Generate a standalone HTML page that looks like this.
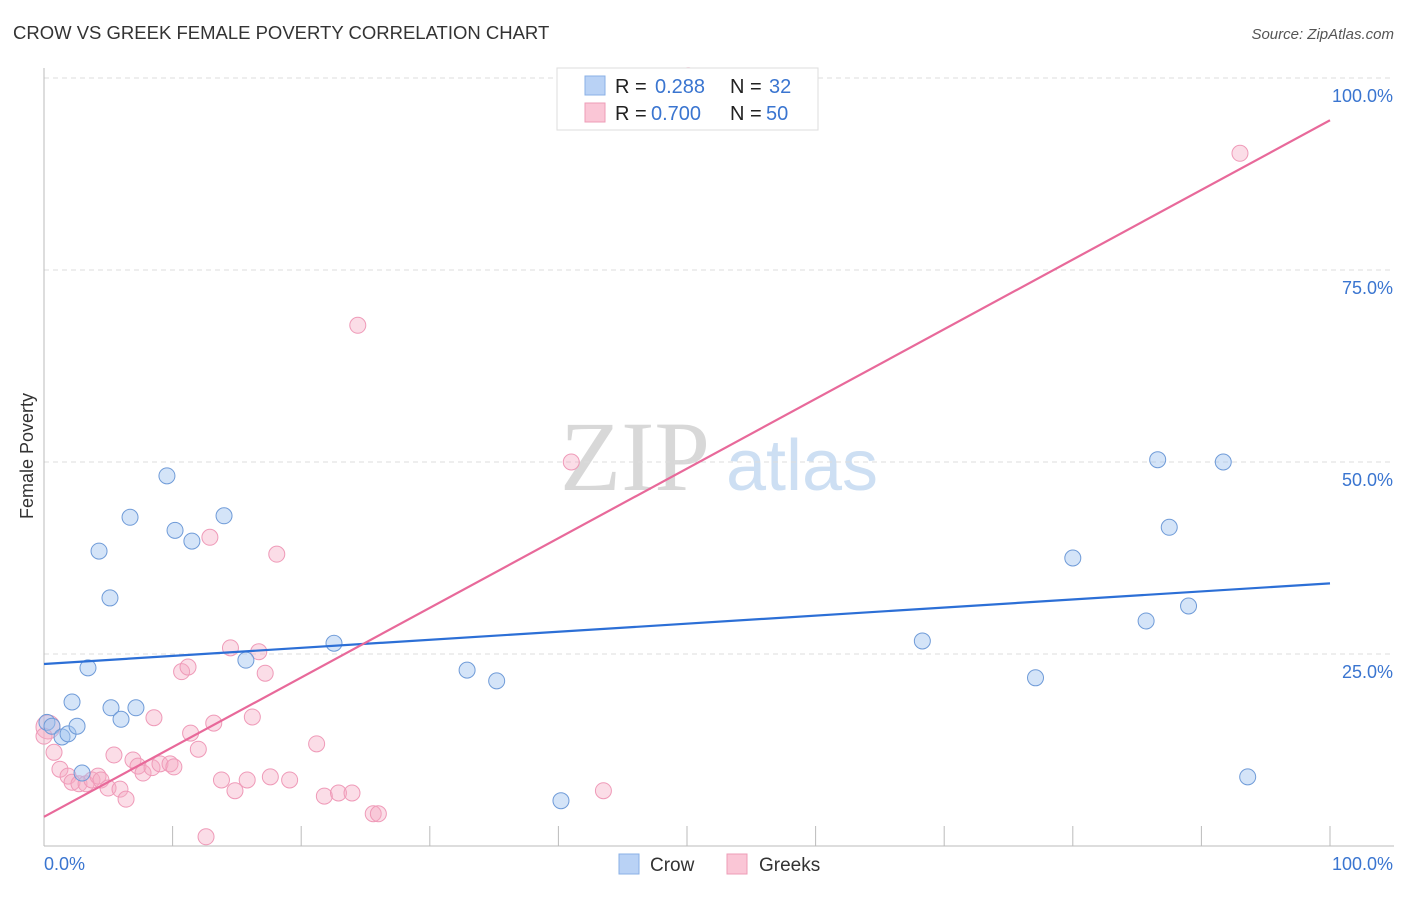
<!DOCTYPE html>
<html><head><meta charset="utf-8"><style>
body{margin:0;background:#fff;font-family:"Liberation Sans",sans-serif;}
svg text{font-family:"Liberation Sans",sans-serif;}
</style></head><body>
<svg id="chart" width="1406" height="892" xmlns="http://www.w3.org/2000/svg">
<text x="13" y="39" font-size="18.5" fill="#333">CROW VS GREEK FEMALE POVERTY CORRELATION CHART</text>
<text x="1394" y="39" font-size="15" fill="#555" font-style="italic" text-anchor="end">Source: ZipAtlas.com</text>
<text transform="translate(33,456) rotate(-90)" font-size="18" fill="#333" text-anchor="middle">Female Poverty</text>
<g>
<text x="635" y="490" font-size="100" style="font-family:'Liberation Serif',serif" fill="#d8d8d8" text-anchor="middle">ZIP</text>
<text x="802" y="490" font-size="72" fill="#cddff3" text-anchor="middle">atlas</text>
</g>
<g id="grid"></g><g id="axes"></g><g id="trend"></g><g id="pts"></g>
<g>
<rect x="557" y="68" width="261" height="62" fill="#fff" stroke="#ddd"/>
<rect x="585" y="76" width="20" height="19" fill="#b9d2f5" stroke="#8ab0e6"/>
<rect x="585" y="103" width="20" height="19" fill="#fac6d6" stroke="#ee9cb7"/>
<text x="615" y="93" font-size="20" fill="#222">R = </text><text x="655" y="93" font-size="20" fill="#3a75d0">0.288</text>
<text x="730" y="93" font-size="20" fill="#222">N = </text><text x="769" y="93" font-size="20" fill="#3a75d0">32</text>
<text x="615" y="120" font-size="20" fill="#222">R = </text><text x="651" y="120" font-size="20" fill="#3a75d0">0.700</text>
<text x="730" y="120" font-size="20" fill="#222">N = </text><text x="766" y="120" font-size="20" fill="#3a75d0">50</text>
</g>
<g>
<rect x="619" y="854" width="20" height="20" fill="#b9d2f5" stroke="#8ab0e6"/>
<text x="650" y="871" font-size="19" fill="#333">Crow</text>
<rect x="727" y="854" width="20" height="20" fill="#fac6d6" stroke="#ee9cb7"/>
<text x="759" y="871" font-size="19" fill="#333">Greeks</text>
</g>
</svg>
<script>
const crowX=[0.23,0.62,1.4,1.87,2.18,2.57,2.96,3.42,4.28,5.13,5.21,5.99,6.69,7.15,9.56,10.19,11.5,14.0,15.7,22.55,32.9,35.2,40.2,68.3,77.1,80.0,85.7,86.6,87.5,89.0,91.7,93.6];
const crowY=[16.1,15.6,14.2,14.6,18.75,15.6,9.5,23.2,38.4,32.3,18.0,16.5,42.8,18.0,48.2,41.1,39.7,43.0,24.2,26.4,22.9,21.5,5.9,26.7,21.9,37.5,29.3,50.3,41.5,31.25,50.0,9.0];
const greekX=[0.31,0.78,1.24,1.87,2.18,2.72,3.27,3.73,4.2,4.43,4.98,5.44,5.91,6.38,6.92,7.31,7.7,8.4,8.55,9.02,9.8,10.1,10.7,11.2,11.4,12.0,12.6,12.9,13.2,13.8,14.5,14.85,15.8,16.2,16.7,17.2,17.6,18.1,19.1,21.2,21.8,22.9,23.95,24.4,25.6,26.0,41.0,43.5,93.0,0,50.1];
const greekY=[15.5,12.2,10.0,9.1,8.3,8.1,8.1,8.6,9.1,8.6,7.55,11.85,7.4,6.1,11.2,10.4,9.5,10.2,16.7,10.7,10.7,10.3,22.7,23.3,14.7,12.6,1.2,40.2,16.0,8.6,25.8,7.2,8.6,16.8,25.3,22.5,9.0,38.0,8.6,13.3,6.5,6.9,6.9,67.8,4.2,4.2,50.0,7.2,90.2,14.3,100.3];
const crowTrend=[23.7,34.2];
const greekTrend=[3.8,94.5];
const yTicks=[25,50,75,100];
const yTickLabels=["25.0%","50.0%","75.0%","100.0%"];
const NS="http://www.w3.org/2000/svg";
const X=v=>44+v*12.86, Y=v=>846-v*7.68;
function mk(tag,at,parent){const e=document.createElementNS(NS,tag);for(const k in at)e.setAttribute(k,at[k]);document.getElementById(parent).appendChild(e);return e;}
yTicks.forEach((t,i)=>{
 const g=mk('line',{x1:44,x2:1394,y1:Y(t),y2:Y(t),stroke:'#ddd','stroke-dasharray':'5,4'},'grid');
 
 
 const l=mk('text',{x:1393,y:Y(t)+24,'font-size':18,fill:'#3a75d0','text-anchor':'end'},'grid');
 l.textContent=yTickLabels[i];
 
 
});
const ax=mk('line',{x1:44,x2:44,y1:68,y2:846,stroke:'#bbb'},'axes');


const bx=mk('line',{x1:44,x2:1394,y1:846,y2:846,stroke:'#bbb'},'axes');


for(let i=0;i<=10;i++){const t=mk('line',{x1:X(i*10),x2:X(i*10),y1:826,y2:846,stroke:'#bbb'},'axes');
 
 }
[["0.0%",44,'start'],["100.0%",1393,'end']].forEach(a=>{const t=mk('text',{x:a[1],y:870,'font-size':18,fill:'#3a75d0','text-anchor':a[2]},'axes');t.textContent=a[0];
 
 });
greekX.forEach((x,i)=>{const c=mk('circle',{cx:X(x),cy:Y(greekY[i]),r:(i==0?12:8),fill:'rgba(246,170,196,0.4)',stroke:'#ef9ab8','stroke-width':1},'pts');
 
 });
crowX.forEach((x,i)=>{const c=mk('circle',{cx:X(x),cy:Y(crowY[i]),r:8,fill:'rgba(160,195,240,0.45)',stroke:'#6f9bd8','stroke-width':1},'pts');
 
 });
const t1=mk('line',{x1:X(0),x2:X(100),y1:Y(crowTrend[0]),y2:Y(crowTrend[1]),stroke:'#2c6fd6','stroke-width':2.2},'pts');


const t2=mk('line',{x1:X(0),x2:X(100),y1:Y(greekTrend[0]),y2:Y(greekTrend[1]),stroke:'#e8699a','stroke-width':2.2},'pts');


</script>
</body></html>
